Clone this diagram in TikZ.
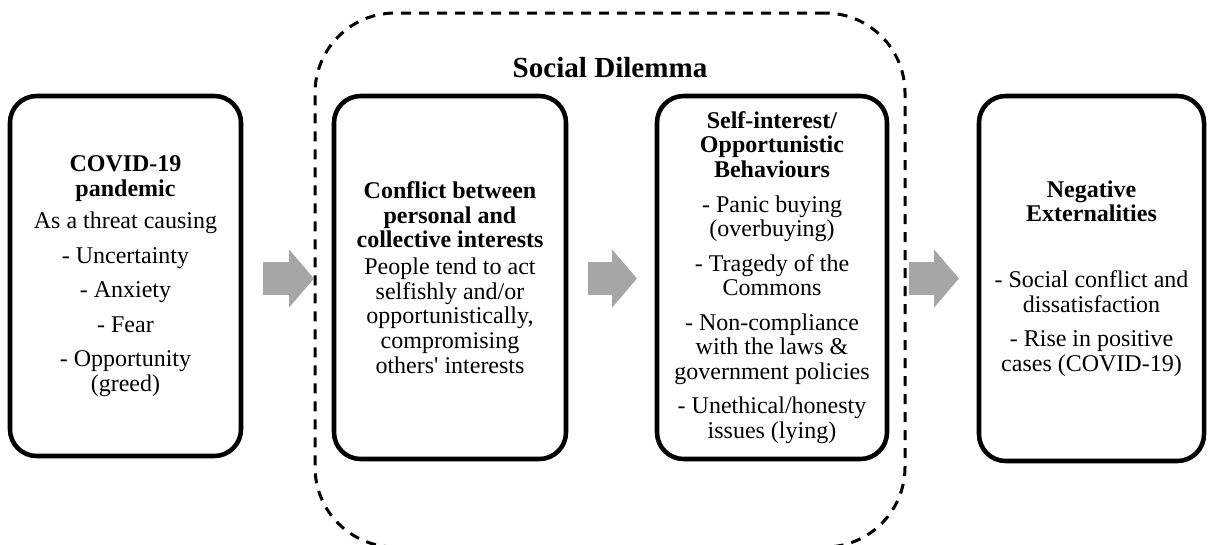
\documentclass[tikz,border=0pt]{standalone}
\usepackage{fontspec}
\setmainfont{Liberation Serif}
\newfontfamily\straightquote{Liberation Serif}[Ligatures=TeXOff]
\usetikzlibrary{arrows.meta}
\definecolor{arrowgray}{HTML}{A6A6A6}
\tikzset{
  stepbox/.style={draw, line width=3.4pt, rounded corners=20pt, outer sep=0pt,
    inner sep=0pt, align=center, font=\fontsize{18pt}{18.4pt}\selectfont},
  flowarrow/.style={draw=arrowgray, line width=24.75pt,
    -{Triangle[length=18.75pt,width=42.75pt]}, shorten <=16.5pt, shorten >=15pt},
  dilemmaframe/.style={draw, line width=2.25pt, dash pattern=on 7.5pt off 6pt,
    rounded corners=60pt, outer sep=0pt, inner sep=0pt},
  titletext/.style={font=\bfseries\fontsize{21.8pt}{24pt}\selectfont, anchor=base, inner sep=0pt}
}
\begin{document}
\begin{tikzpicture}[x=0.75pt,y=-0.75pt]
  \useasboundingbox (0,0) rectangle (1209,544);

  % dashed group around the two middle stages
  \node[dilemmaframe, minimum width=442.5pt, minimum height=400.5pt] (frame) at (610,280) {};
  \node[titletext] (title) at (610,77) {Social Dilemma};

  % the four stages
  \node[stepbox, minimum width=173.25pt, minimum height=270pt] (b1) at (125.5,276) {%
    \textbf{COVID-19}\\ \textbf{pandemic}\\[6pt]
    As a threat causing\\[7.5pt]
    - Uncertainty\\[7.5pt]
    - Anxiety\\[7.5pt]
    - Fear\\[7.5pt]
    - Opportunity\\ (greed)};

  \node[stepbox, minimum width=174pt, minimum height=272.25pt] (b2) at (450,277.5) {%
    \textbf{Conflict between}\\ \textbf{personal and}\\ \textbf{collective interests}\\[2pt]
    People tend to act\\ selfishly and/or\\ opportunistically,\\ compromising\\ others{\straightquote '} interests};

  \node[stepbox, minimum width=172.5pt, minimum height=272.25pt] (b3) at (772,277.5) {%
    \textbf{Self-interest/}\\ \textbf{Opportunistic}\\ \textbf{Behaviours}\\[7.5pt]
    - Panic buying\\ (overbuying)\\[7.5pt]
    - Tragedy of the\\ Commons\\[7.5pt]
    - Non-compliance\\ with the laws \&\\ government policies\\[7.5pt]
    - Unethical/honesty\\ issues (lying)};

  \node[stepbox, minimum width=168.75pt, minimum height=273.75pt] (b4) at (1091.5,278.5) {%
    \textbf{Negative}\\ \textbf{Externalities}\\[31pt]
    - Social conflict and\\ dissatisfaction\\[7.5pt]
    - Rise in positive\\ cases (COVID-19)};

  % block arrows between the stages
  \coordinate (mid) at (0,278.5);
  \draw[flowarrow] (b1.east |- mid) -- (b2.west |- mid);
  \draw[flowarrow] (b2.east |- mid) -- (b3.west |- mid);
  \draw[flowarrow] (b3.east |- mid) -- (b4.west |- mid);
\end{tikzpicture}
\end{document}
